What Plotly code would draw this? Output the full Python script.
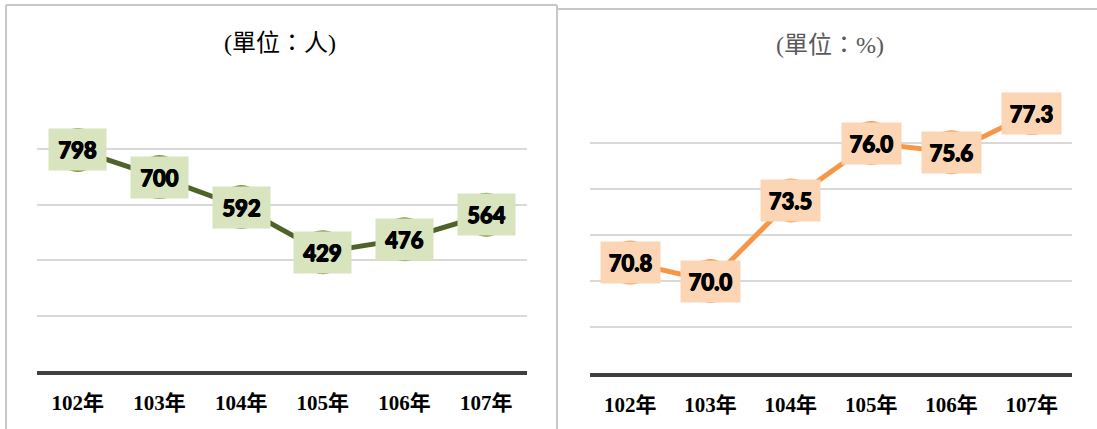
import plotly.graph_objects as go

years = ["102年", "103年", "104年", "105年", "106年", "107年"]
people = [798, 700, 592, 429, 476, 564]
pct = [70.8, 70.0, 73.5, 76.0, 75.6, 77.3]
people_labels = ["798", "700", "592", "429", "476", "564"]
pct_labels = ["70.8", "70.0", "73.5", "76.0", "75.6", "77.3"]

W, H = 1097, 429

fig = go.Figure()

fig.add_trace(go.Scatter(
    x=years, y=people, mode="lines+markers", xaxis="x", yaxis="y",
    line=dict(color="#4F6228", width=5),
    marker=dict(size=44, color="#77933C", line=dict(width=0)),
    hoverinfo="skip", showlegend=False))

fig.add_trace(go.Scatter(
    x=years, y=pct, mode="lines+markers", xaxis="x2", yaxis="y2",
    line=dict(color="#F79646", width=5),
    marker=dict(size=44, color="#F79646", line=dict(width=0)),
    hoverinfo="skip", showlegend=False))

labfont = dict(family="Lato", size=22, color="black", weight=900,
               shadow="0.6px 0 0 black, -0.6px 0 0 black, 0 0.6px 0 black")
annotations = []
for xv, yv, t in zip(years, people, people_labels):
    annotations.append(dict(x=xv, y=yv, xref="x", yref="y", text=t,
                            showarrow=False, bgcolor="#D7E4BD", width=55, height=39,
                            borderpad=1, font=labfont))
for xv, yv, t in zip(years, pct, pct_labels):
    annotations.append(dict(x=xv, y=yv, xref="x2", yref="y2", text=t,
                            showarrow=False, bgcolor="#FCD5B5", width=57, height=39,
                            borderpad=1, font=labfont))

serif = "Liberation Serif, Noto Sans CJK TC, serif"
annotations.append(dict(x=280 / W, y=1 - 43 / H, xref="paper", yref="paper", text="(單位：人)",
                        xanchor="center", yanchor="middle",
                        showarrow=False, font=dict(family=serif, size=24, color="black")))
annotations.append(dict(x=830 / W, y=1 - 45 / H, xref="paper", yref="paper", text="(單位：%)",
                        xanchor="center", yanchor="middle",
                        showarrow=False, font=dict(family=serif, size=24, color="#595959")))

shapes = [
    dict(type="line", xref="paper", yref="paper", x0=6 / W, x1=6 / W, y0=0, y1=1 - 5 / H,
         line=dict(color="#C8C8C8", width=2)),
    dict(type="line", xref="paper", yref="paper", x0=6 / W, x1=557 / W, y0=1 - 5 / H, y1=1 - 5 / H,
         line=dict(color="#C8C8C8", width=2)),
    dict(type="line", xref="paper", yref="paper", x0=557 / W, x1=557 / W, y0=0, y1=1 - 5 / H,
         line=dict(color="#C8C8C8", width=2)),
    dict(type="line", xref="paper", yref="paper", x0=557 / W, x1=1, y0=1 - 9 / H, y1=1 - 9 / H,
         line=dict(color="#C8C8C8", width=2)),
]

tickfont = dict(family="Liberation Serif, Noto Sans CJK TC, serif", size=21, color="black", weight="bold")

fig.update_layout(
    width=W, height=H,
    margin=dict(l=0, r=0, t=0, b=0),
    paper_bgcolor="white", plot_bgcolor="white",
    annotations=annotations, shapes=shapes,
    xaxis=dict(domain=[37 / W, 527 / W], anchor="y", type="category", range=[-0.5, 5.5],
               showgrid=False, showline=True, linecolor="#404040", linewidth=4,
               ticks="", tickfont=tickfont, ticklabelstandoff=10,
               fixedrange=True),
    yaxis=dict(domain=[1 - 371 / H, 1 - 94 / H], anchor="x", range=[0, 1000], dtick=200,
               showgrid=True, gridcolor="#D9D9D9", gridwidth=2, showticklabels=False,
               zeroline=False, showline=False, fixedrange=True),
    xaxis2=dict(domain=[590 / W, 1072 / W], anchor="y2", type="category", range=[-0.5, 5.5],
                showgrid=False, showline=True, linecolor="#404040", linewidth=4,
                ticks="", tickfont=tickfont, ticklabelstandoff=10,
                fixedrange=True),
    yaxis2=dict(domain=[1 - 373 / H, 1 - 97 / H], anchor="x2", range=[66, 78], dtick=2,
                showgrid=True, gridcolor="#D9D9D9", gridwidth=2, showticklabels=False,
                zeroline=False, showline=False, fixedrange=True),
)

fig.write_html("out.html", config={"displayModeBar": False},
               post_script="document.body.style.margin='0';document.body.style.overflow='hidden';")
